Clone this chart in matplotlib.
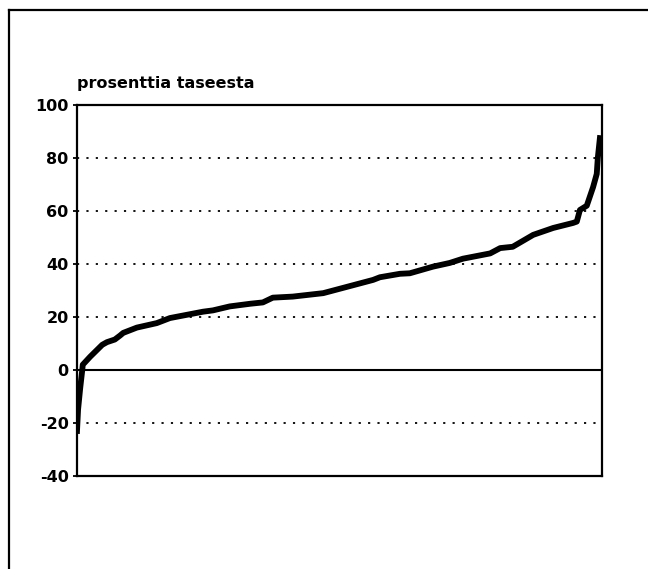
import matplotlib
matplotlib.use("Agg")
import matplotlib.pyplot as plt
from matplotlib.lines import Line2D

# sorted observations: rank position (% of observations) and value (% of balance sheet)
rank_pct = [0, 0.2, 0.6, 1.0, 1.1, 2.5, 4.8, 5.7, 7.2, 8.2, 8.8, 11.4, 15.2, 17.7,
            24.0, 25.9, 29.1, 33.0, 35.4, 37.3, 41.1, 46.9, 52.6, 56.4, 57.7, 61.5,
            63.4, 67.8, 71.0, 73.5, 78.7, 80.6, 83.0, 86.9, 90.7, 94.5, 95.2, 95.8,
            97.1, 98.3, 99.0, 99.2, 99.6]
values = [-23, -15, -7, 0, 2, 5, 9.5, 10.5, 11.5, 13, 14, 16, 17.7, 19.6,
          22, 22.5, 24, 25, 25.5, 27.3, 27.7, 29, 32, 34, 35, 36.3,
          36.5, 39, 40.4, 42, 44, 46, 46.5, 51, 53.6, 55.5, 56, 60.4,
          62, 69, 74, 80, 87.5]
yticks = [-40, -20, 0, 20, 40, 60, 80, 100]
title = "prosenttia taseesta"

plt.rcParams["font.family"] = ["DejaVu Sans"]

fig = plt.figure(figsize=(6.48, 5.69), dpi=100)
ax = fig.add_axes([77/648, 1-476/569, 525/648, 371/569])

for y in yticks:
    if y == 0:
        ax.axhline(y, color="black", lw=1.5, zorder=2)
    elif -40 < y < 100:
        ax.axhline(y, color="black", lw=1.3, ls=(0, (1.2, 4)), zorder=1)

ax.plot(rank_pct, values, color="black", lw=4.2, solid_joinstyle="round", zorder=3)

ax.set_xlim(0, 100)
ax.set_ylim(-40, 100)
ax.set_xticks([])
ax.set_yticks(yticks)
ax.set_yticklabels([str(t) for t in yticks], fontsize=11.5, fontweight="bold")
ax.tick_params(axis="y", length=3, width=1.3, pad=3)
for s in ax.spines.values():
    s.set_linewidth(1.6)

fig.text(77/648, 1-88/569, title, fontsize=11.5, fontweight="bold", ha="left", va="baseline")

# outer frame: top and left edges only
fig.add_artist(Line2D([9/648, 1], [1-10/569, 1-10/569], color="black", lw=1.6,
                      transform=fig.transFigure))
fig.add_artist(Line2D([9/648, 9/648], [0, 1-10/569], color="black", lw=1.6,
                      transform=fig.transFigure))

fig.savefig("out.png", dpi=100)
